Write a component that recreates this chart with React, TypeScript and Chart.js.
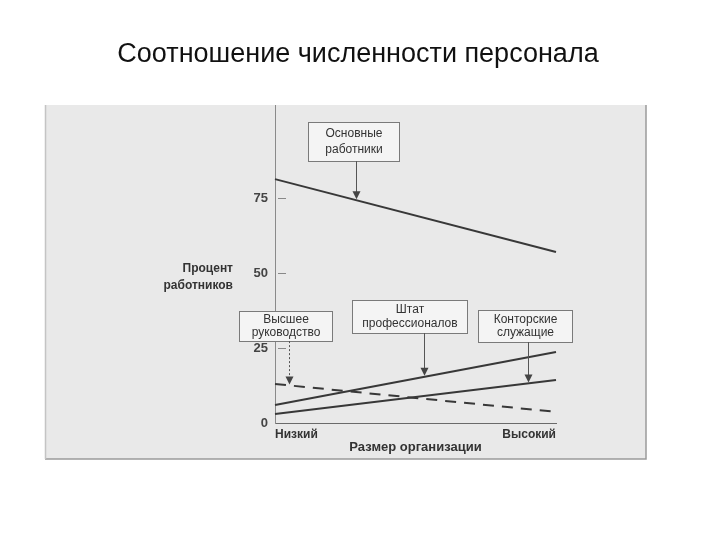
import React, { useEffect, useRef } from "react";
import { Chart, registerables } from "chart.js";

Chart.register(...registerables);

// ---- data ----
const sizeLabels = ["Низкий", "Высокий"];
const coreWorkers = [81.3, 57];
const professionals = [6, 23.7];
const clerical = [3, 14.3];
const topManagement = [13, 3.7];
const yTickValues = [0, 25, 50, 75];

const titleText = "Соотношение численности персонала";
const yTitleLines = ["Процент", "работников"];
const xTitleText = "Размер организации";

// annotation boxes (series index, arrow position along x, box placement)
const notes = [
  { lines: ["Основные", "работники"], series: 0, at: 0.29, cx: 0.28, w: 91, top: 100.3, bottom: 87.3, dotted: false },
  { lines: ["Высшее", "руководство"], series: 3, at: 0.05, cx: 0.037, w: 93, top: 37.3, bottom: 27.3, dotted: true },
  { lines: ["Штат", "профессионалов"], series: 1, at: 0.53, cx: 0.479, w: 115, top: 41, bottom: 30, dotted: false },
  { lines: ["Конторские", "служащие"], series: 2, at: 0.9, cx: 0.89, w: 94, top: 37.7, bottom: 27, dotted: false },
];

const FONT = '"Liberation Sans", Arial, sans-serif';

const decorPlugin = {
  id: "decor",
  beforeDraw(chart: any) {
    const { ctx } = chart;
    ctx.save();
    ctx.fillStyle = "#ffffff";
    ctx.fillRect(0, 0, chart.width, chart.height);
    // scanned page background
    ctx.fillStyle = "#e9e9e9";
    ctx.fillRect(45, 105, 601, 354);
    ctx.strokeStyle = "#9a9a9a";
    ctx.lineWidth = 1.5;
    ctx.beginPath();
    ctx.moveTo(45, 459);
    ctx.lineTo(646, 459);
    ctx.lineTo(646, 105);
    ctx.stroke();
    ctx.strokeStyle = "#c4c4c4";
    ctx.beginPath();
    ctx.moveTo(45.5, 105);
    ctx.lineTo(45.5, 459);
    ctx.stroke();
    // page title
    ctx.fillStyle = "#111111";
    ctx.font = `27px ${FONT}`;
    ctx.textAlign = "center";
    ctx.textBaseline = "middle";
    ctx.fillText(titleText, 358, 55);
    ctx.restore();
  },
  afterDatasetsDraw(chart: any) {
    const { ctx, chartArea } = chart;
    const ys = chart.scales.y;
    const frac = (f: number) => chartArea.left + f * (chartArea.right - chartArea.left);
    ctx.save();
    // inner tick marks on y axis
    ctx.strokeStyle = "#888888";
    ctx.lineWidth = 1;
    yTickValues.forEach((v) => {
      if (v === 0) return;
      const y = Math.round(ys.getPixelForValue(v)) + 0.5;
      ctx.beginPath();
      ctx.moveTo(chartArea.left + 3, y);
      ctx.lineTo(chartArea.left + 11, y);
      ctx.stroke();
    });
    // y title
    ctx.fillStyle = "#333333";
    ctx.font = `bold 12px ${FONT}`;
    ctx.textAlign = "right";
    ctx.textBaseline = "middle";
    const yMid = ys.getPixelForValue(50);
    ctx.fillText(yTitleLines[0], chartArea.left - 42, yMid - 4);
    ctx.fillText(yTitleLines[1], chartArea.left - 42, yMid + 13);
    // x title
    ctx.textAlign = "center";
    ctx.font = `bold 13px ${FONT}`;
    ctx.fillText(xTitleText, (chartArea.left + chartArea.right) / 2, chartArea.bottom + 24);

    // annotation boxes and arrows
    notes.forEach((n) => {
      const ds = chart.data.datasets[n.series].data as number[];
      const vAt = ds[0] + n.at * (ds[1] - ds[0]);
      const ax = Math.round(frac(n.at)) + 0.5;
      const tipY = ys.getPixelForValue(vAt);
      const cx = frac(n.cx);
      const top = ys.getPixelForValue(n.top);
      const bottom = ys.getPixelForValue(n.bottom);
      const left = Math.round(cx - n.w / 2) + 0.5;
      ctx.fillStyle = "#f4f4f4";
      ctx.fillRect(left, Math.round(top) + 0.5, n.w, bottom - top);
      ctx.strokeStyle = "#7a7a7a";
      ctx.lineWidth = 1;
      ctx.strokeRect(left, Math.round(top) + 0.5, n.w, Math.round(bottom - top));
      ctx.fillStyle = "#333333";
      ctx.font = `12px ${FONT}`;
      ctx.textAlign = "center";
      ctx.textBaseline = "middle";
      const h = bottom - top;
      ctx.fillText(n.lines[0], left + n.w / 2, top + h * 0.3);
      ctx.fillText(n.lines[1], left + n.w / 2, top + h * 0.72);
      // arrow shaft
      ctx.strokeStyle = "#555555";
      ctx.setLineDash(n.dotted ? [2, 2] : []);
      ctx.beginPath();
      ctx.moveTo(ax, bottom);
      ctx.lineTo(ax, tipY - 8);
      ctx.stroke();
      ctx.setLineDash([]);
      // arrow head
      ctx.fillStyle = "#444444";
      ctx.beginPath();
      ctx.moveTo(ax - 4, tipY - 9);
      ctx.lineTo(ax + 4, tipY - 9);
      ctx.lineTo(ax, tipY - 1);
      ctx.closePath();
      ctx.fill();
    });
    ctx.restore();
  },
};

export default function App() {
  const ref = useRef<HTMLCanvasElement | null>(null);
  useEffect(() => {
    if (!ref.current) return;
    document.body.style.margin = "0";
    const lineStyle = {
      borderColor: "#383838",
      borderWidth: 2,
      pointRadius: 0,
      tension: 0,
      fill: false,
    };
    const chart = new Chart(ref.current, {
      type: "line",
      data: {
        labels: sizeLabels,
        datasets: [
          { label: "Основные работники", data: coreWorkers, ...lineStyle },
          { label: "Штат профессионалов", data: professionals, ...lineStyle },
          { label: "Конторские служащие", data: clerical, ...lineStyle },
          { label: "Высшее руководство", data: topManagement, ...lineStyle, borderDash: [11, 8] },
        ],
      },
      options: {
        responsive: false,
        animation: false,
        layout: { padding: { left: 0, right: 164, top: 105, bottom: 0 } },
        plugins: {
          legend: { display: false },
          tooltip: { enabled: false },
          title: { display: false },
        },
        scales: {
          x: {
            type: "category",
            offset: false,
            grid: { display: false, drawTicks: false },
            border: { display: true, color: "#6a6a6a", width: 1 },
            ticks: {
              align: "inner",
              padding: 4,
              color: "#333333",
              font: { family: FONT, size: 12, weight: "bold" },
              maxRotation: 0,
            },
            afterFit: (s: any) => {
              s.height = 117;
            },
          },
          y: {
            type: "linear",
            min: 0,
            max: 106,
            z: 1,
            grid: { display: false, drawTicks: false },
            border: { display: true, color: "#8a8a8a", width: 1 },
            afterBuildTicks: (s: any) => {
              s.ticks = yTickValues.map((v) => ({ value: v }));
            },
            ticks: {
              padding: 7,
              color: "#444444",
              font: { family: FONT, size: 13, weight: "bold" },
            },
            afterFit: (s: any) => {
              s.width = 275;
            },
          },
        },
      },
      plugins: [decorPlugin],
    });
    return () => chart.destroy();
  }, []);
  return (
    <div style={{ position: "fixed", left: 0, top: 0, width: 720, height: 540, background: "#fff" }}>
      <canvas ref={ref} width={720} height={540} style={{ width: 720, height: 540 }} />
    </div>
  );
}
